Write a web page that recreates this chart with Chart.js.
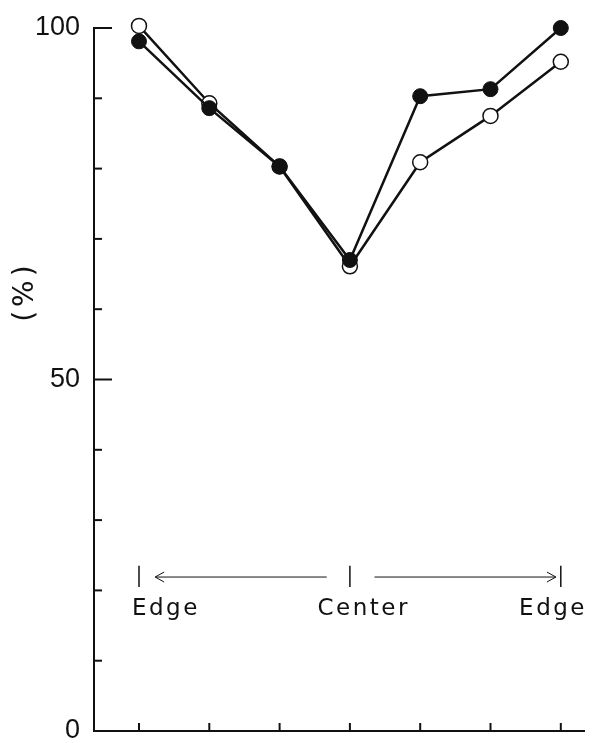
<!DOCTYPE html>
<html>
<head>
<meta charset="utf-8">
<script src="https://cdn.jsdelivr.net/npm/chart.js@4/dist/chart.umd.min.js"></script>
<style>
  html, body { margin: 0; padding: 0; background: #fff; }
  #wrap { width: 593px; height: 743px; }
</style>
</head>
<body>
<div id="wrap"><canvas id="chart"></canvas></div>
<script>
// =====================
//  DATA
// =====================
const POSITIONS = [0, 1, 2, 3, 4, 5, 6];          // edge -> center -> edge
const FILLED = [98.1, 88.6, 80.3, 67.0, 90.3, 91.3, 100.0];
const OPEN = [100.3, 89.3, 80.3, 66.1, 80.9, 87.5, 95.2];
const Y_LABELS = { 0: "0", 50: "50", 100: "100" };

const INK = "#111";

// small inward tick marks, arrows and the Edge / Center texts
const annotatePlugin = {
    id: "annotate",
    afterDraw(chart) {
        const ctx = chart.ctx;
        const x = chart.scales.x;
        const y = chart.scales.y;
        ctx.save();
        ctx.strokeStyle = INK;
        ctx.fillStyle = INK;

        // y ticks point inward
        ctx.lineWidth = 2;
        y.ticks.forEach((t) => {
            const py = y.getPixelForValue(t.value);
            const len = t.value % 50 === 0 ? 18 : 8;
            ctx.beginPath();
            ctx.moveTo(x.left, py);
            ctx.lineTo(x.left + len, py);
            ctx.stroke();
        });

        // x ticks point up
        POSITIONS.forEach((p) => {
            const px = x.getPixelForValue(p);
            ctx.beginPath();
            ctx.moveTo(px, y.bottom);
            ctx.lineTo(px, y.bottom - 8);
            ctx.stroke();
        });

        // markers at edge / center / edge
        ctx.lineWidth = 1.5;
        [0, 3, 6].forEach((p) => {
            const px = x.getPixelForValue(p);
            ctx.beginPath();
            ctx.moveTo(px, y.getPixelForValue(23.5));
            ctx.lineTo(px, y.getPixelForValue(20.5));
            ctx.stroke();
        });

        // arrows
        const ay = y.getPixelForValue(21.9);
        ctx.lineWidth = 1;
        const l1 = x.getPixelForValue(0.23), l2 = x.getPixelForValue(2.67);
        const r1 = x.getPixelForValue(3.35), r2 = x.getPixelForValue(5.93);
        ctx.beginPath();
        ctx.moveTo(l1, ay); ctx.lineTo(l2, ay);
        ctx.moveTo(l1 + 9, ay - 5); ctx.lineTo(l1, ay); ctx.lineTo(l1 + 9, ay + 5);
        ctx.moveTo(r1, ay); ctx.lineTo(r2, ay);
        ctx.moveTo(r2 - 9, ay - 5); ctx.lineTo(r2, ay); ctx.lineTo(r2 - 9, ay + 5);
        ctx.stroke();

        // texts
        ctx.font = "23px 'DejaVu Sans'";
        ctx.letterSpacing = "2.5px";
        ctx.textBaseline = "alphabetic";
        const ty = y.getPixelForValue(16.5);
        ctx.textAlign = "left";
        ctx.fillText("Edge", x.getPixelForValue(-0.1), ty);
        ctx.fillText("Center", x.getPixelForValue(2.54), ty);
        ctx.textAlign = "right";
        ctx.fillText("Edge", x.getPixelForValue(6.33) + 3, ty);

        // rotated unit label
        ctx.font = "28px 'DejaVu Sans'";
        ctx.letterSpacing = "4px";
        ctx.translate(26, y.getPixelForValue(62.5));
        ctx.rotate(-Math.PI / 2);
        ctx.textAlign = "center";
        ctx.textBaseline = "middle";
        ctx.fillText("(%)", 0, 0);
        ctx.restore();
    }
};

const chart = new Chart(document.getElementById("chart").getContext("2d"), {
    type: "line",
    data: {
        datasets: [
            {
                label: "filled",
                data: POSITIONS.map((p, i) => ({ x: p, y: FILLED[i] })),
                borderColor: INK,
                borderWidth: 2.5,
                pointBackgroundColor: INK,
                pointBorderColor: INK,
                pointBorderWidth: 1,
                pointRadius: 7.5,
                tension: 0,
                clip: false,
                order: 1
            },
            {
                label: "open",
                data: POSITIONS.map((p, i) => ({ x: p, y: OPEN[i] })),
                borderColor: INK,
                borderWidth: 2.5,
                pointBackgroundColor: "#fff",
                pointBorderColor: INK,
                pointBorderWidth: 1.5,
                pointRadius: 7.5,
                tension: 0,
                clip: false,
                order: 2
            }
        ]
    },
    options: {
        responsive: true,
        maintainAspectRatio: false,
        animation: false,
        layout: { padding: { top: 28, right: 8, bottom: 12, left: 0 } },
        plugins: {
            legend: { display: false },
            tooltip: { enabled: false }
        },
        scales: {
            x: {
                type: "linear",
                min: -0.64,
                max: 6.33,
                ticks: { display: false },
                grid: { display: false, drawTicks: false },
                border: { display: true, color: INK, width: 2 },
                afterFit: (s) => { s.height = 0; s.paddingLeft = 0; s.paddingRight = 0; }
            },
            y: {
                min: 0,
                max: 100,
                ticks: {
                    stepSize: 10,
                    padding: 14,
                    color: INK,
                    font: { family: "'Liberation Sans'", size: 27 },
                    callback: (v) => Y_LABELS[v] || ""
                },
                grid: { display: false, drawTicks: false },
                border: { display: true, color: INK, width: 2 },
                afterFit: (s) => { s.width = 94; s.paddingTop = 0; s.paddingBottom = 0; }
            }
        }
    },
    plugins: [annotatePlugin]
});
</script>
</body>
</html>
